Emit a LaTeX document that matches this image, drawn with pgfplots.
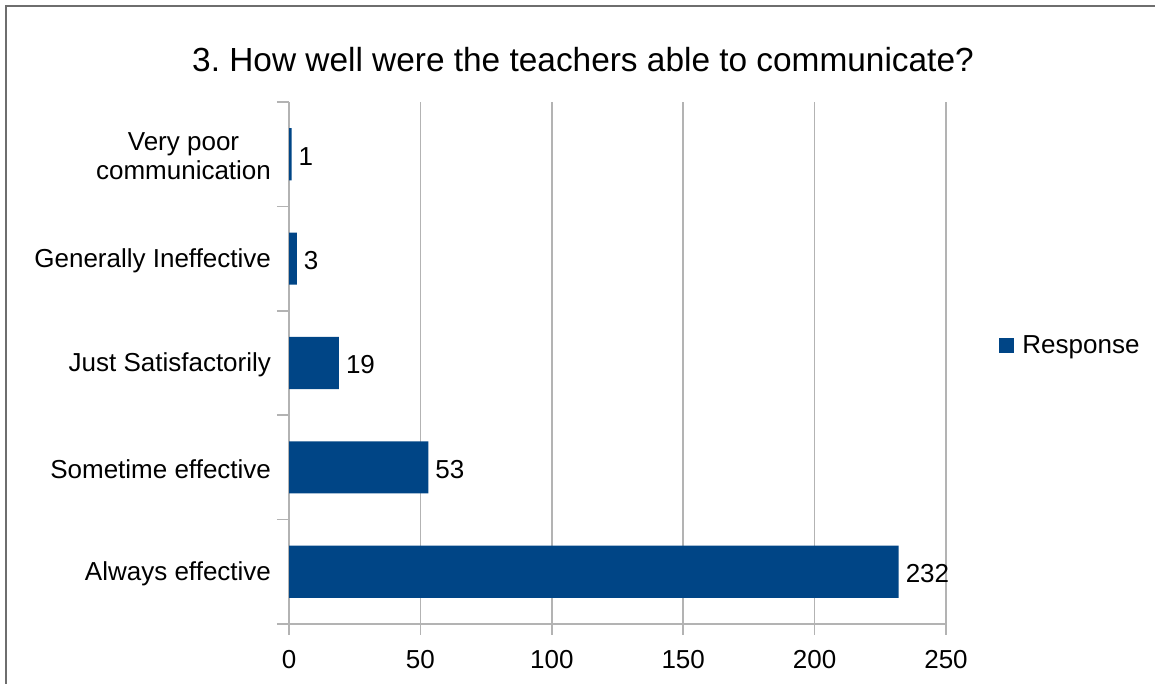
\documentclass[border=0pt]{standalone}
\usepackage{pgfplots}
\pgfplotsset{compat=1.18}
\usepackage{fontspec}
\setmainfont{Liberation Sans}
\frenchspacing
\definecolor{barblue}{HTML}{004586}
\definecolor{gridgray}{HTML}{B3B3B3}
\definecolor{framegray}{HTML}{6E6E6E}
\begin{document}
\begin{tikzpicture}[x=0.5pt,y=0.5pt]
\useasboundingbox (0,0) rectangle (1155,684);
% frame (top and left)
\draw[framegray,line width=1.2pt] (6,0) -- (6,678) -- (1155,678);
% title
\node[anchor=base,font=\fontsize{16.7}{20}\selectfont] at (583,612) {3. How well were the teachers able to communicate?};
\begin{axis}[
  at={(144.5pt,30pt)}, anchor=south west,
  scale only axis, width=328.5pt, height=261pt,
  xmin=0, xmax=250, ymin=-0.5, ymax=4.5,
  xtick={0,50,...,250},
  ytick={0,1,2,3,4},
  yticklabels={Always effective,Sometime effective,Just Satisfactorily,Generally Ineffective,{Very poor\\communication}},
  yticklabel style={align=center,font=\fontsize{13}{14.5}\selectfont,yshift=-1pt},
  xticklabel style={font=\fontsize{13}{14.5}\selectfont},
  /pgf/number format/assume math mode=true,
  minor ytick={-0.5,0.5,...,4.5},
  major y tick style={draw=none},
  minor tick length=6pt,
  major tick length=5.5pt,
  tick align=outside,
  tick style={gridgray,line width=0.8pt},
  xmajorgrids, grid style={gridgray,line width=0.8pt},
  axis lines*=left,
  axis line style={gridgray,line width=0.8pt,-},
  xticklabel shift=4pt,
  yticklabel shift=0pt,
  xbar, bar width=0.5,
  nodes near coords,
  nodes near coords style={anchor=west,font=\fontsize{13}{14.5}\selectfont,xshift=0pt,yshift=-1pt},
  every node near coord/.append style={/pgf/number format/assume math mode=true},
  clip=false,
]
\addplot[fill=barblue,draw=none] coordinates {(232,0) (53,1) (19,2) (3,3) (1,4)};
\end{axis}
% legend
\fill[barblue] (999,331) rectangle (1014,346);
\node[anchor=base west,font=\fontsize{13}{14.5}\selectfont,inner sep=0pt] at (1022,330) {Response};
\end{tikzpicture}
\end{document}
